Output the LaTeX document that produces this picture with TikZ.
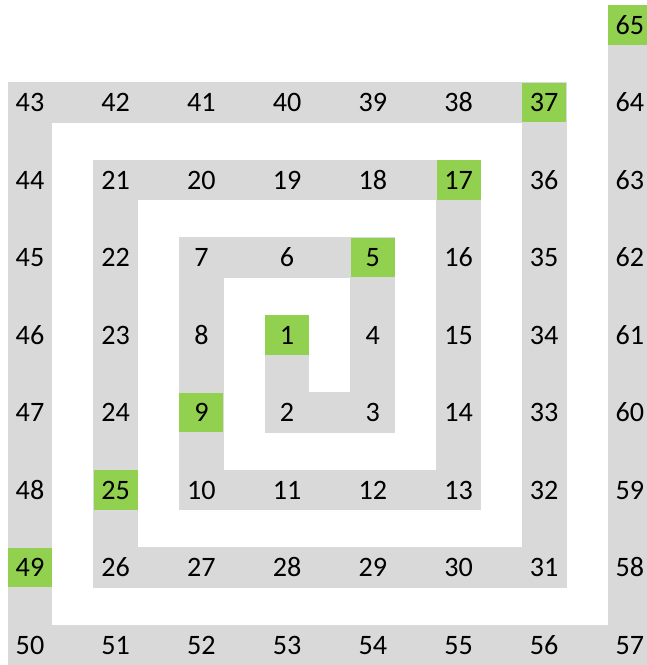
\documentclass[tikz,border=0pt]{standalone}
\usepackage{fontspec}
\setmainfont{Carlito}
\usepackage{tikz}
\usetikzlibrary{backgrounds}
\definecolor{bandgray}{HTML}{D9D9D9}
\definecolor{cellgreen}{HTML}{92D050}
\tikzset{
    cell/.style={rectangle, fill=bandgray, inner sep=0pt, minimum width=0.88cm, minimum height=0.79cm,
        text height=10.4pt, text depth=0pt, font=\fontsize{16}{19}\selectfont},
    cornercell/.style={cell, fill=cellgreen},
    band/.style={fill=bandgray}
}

\begin{document}
\begin{tikzpicture}[x=1.714cm, y=-1.55cm]
    \useasboundingbox (-0.6cm,0.5cm) rectangle (12.34cm,-12.8cm);
    % Клетки спирали: номер/столбец/строка/стиль
    \foreach \n/\c/\r/\s in {1/3/4/cornercell, 2/3/5/cell, 3/4/5/cell, 4/4/4/cell, 5/4/3/cornercell,
        6/3/3/cell, 7/2/3/cell, 8/2/4/cell, 9/2/5/cornercell, 10/2/6/cell, 11/3/6/cell, 12/4/6/cell,
        13/5/6/cell, 14/5/5/cell, 15/5/4/cell, 16/5/3/cell, 17/5/2/cornercell, 18/4/2/cell, 19/3/2/cell,
        20/2/2/cell, 21/1/2/cell, 22/1/3/cell, 23/1/4/cell, 24/1/5/cell, 25/1/6/cornercell, 26/1/7/cell,
        27/2/7/cell, 28/3/7/cell, 29/4/7/cell, 30/5/7/cell, 31/6/7/cell, 32/6/6/cell, 33/6/5/cell,
        34/6/4/cell, 35/6/3/cell, 36/6/2/cell, 37/6/1/cornercell, 38/5/1/cell, 39/4/1/cell, 40/3/1/cell,
        41/2/1/cell, 42/1/1/cell, 43/0/1/cell, 44/0/2/cell, 45/0/3/cell, 46/0/4/cell, 47/0/5/cell,
        48/0/6/cell, 49/0/7/cornercell, 50/0/8/cell, 51/1/8/cell, 52/2/8/cell, 53/3/8/cell, 54/4/8/cell,
        55/5/8/cell, 56/6/8/cell, 57/7/8/cell, 58/7/7/cell, 59/7/6/cell, 60/7/5/cell, 61/7/4/cell,
        62/7/3/cell, 63/7/2/cell, 64/7/1/cell, 65/7/0/cornercell}
        \node[\s] (c\n) at (\c,\r) {\n};
    % Серая полоса между соседними клетками
    \begin{scope}[on background layer]
        \foreach \n [count=\m] in {2,...,65} {
            \fill[band] (c\m.south west) rectangle (c\n.north east);
            \fill[band] (c\m.north east) rectangle (c\n.south west);
        }
    \end{scope}
\end{tikzpicture}
\end{document}
